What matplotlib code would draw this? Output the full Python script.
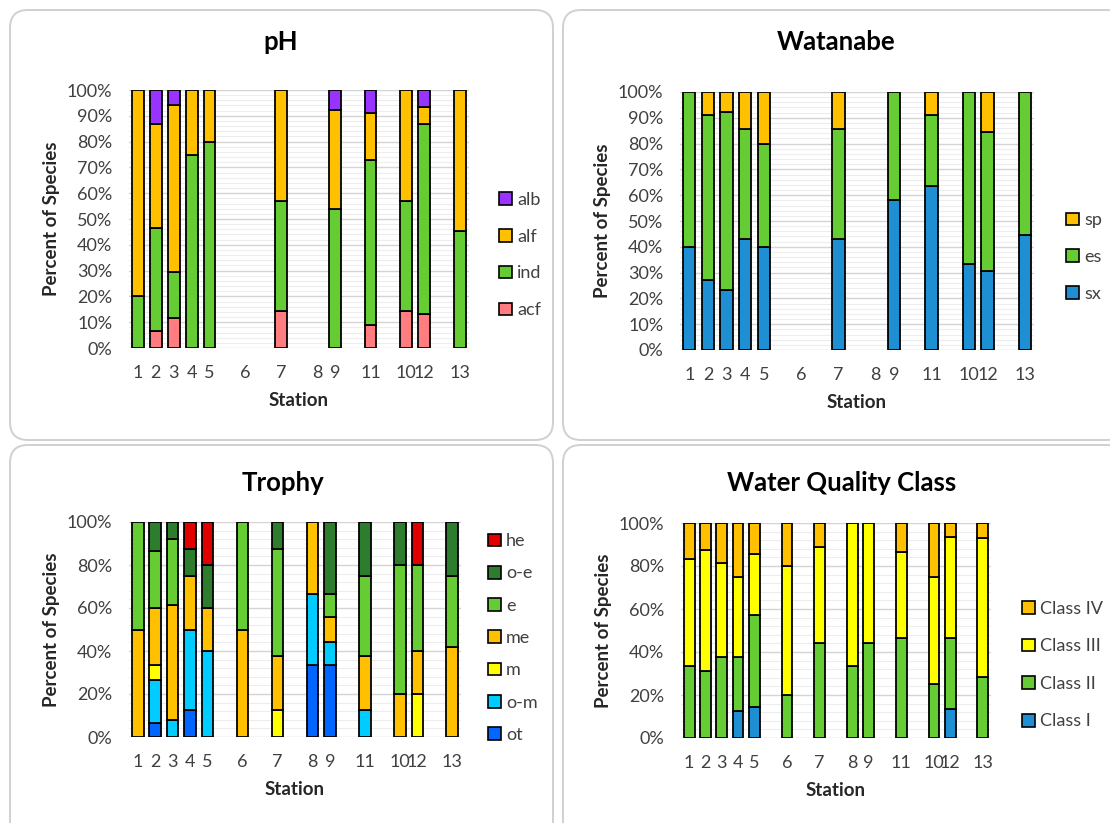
import numpy as np
import matplotlib.pyplot as plt
from matplotlib.patches import FancyBboxPatch
from matplotlib.transforms import IdentityTransform
from matplotlib.ticker import MultipleLocator, PercentFormatter

plt.rcParams['font.family'] = ['Lato', 'DejaVu Sans']

# category axis with empty slots, as in the original spreadsheet chart
categories = ["1", "2", "3", "4", "5", "", "6", "", "7", "", "8", "9", "",
              "11", "", "10", "12", "", "13"]
stations = ["1", "2", "3", "4", "5", "6", "7", "8", "9", "11", "10", "12", "13"]

# pH (percent of species) - stations 6 and 8 have no data
ph_acf = [0, 6.7, 11.8, 0, 0, 0, 14.3, 0, 0, 9.1, 14.3, 13.3, 0]
ph_ind = [20, 40.0, 17.6, 75, 80, 0, 42.8, 0, 53.8, 63.6, 42.8, 73.4, 45.5]
ph_alf = [80, 40.0, 64.7, 25, 20, 0, 42.9, 0, 38.5, 18.2, 42.9, 6.6, 54.5]
ph_alb = [0, 13.3, 5.9, 0, 0, 0, 0, 0, 7.7, 9.1, 0, 6.7, 0]

# Watanabe
wat_sx = [40, 27.3, 23.1, 42.9, 40, 0, 42.9, 0, 58.3, 63.6, 33.3, 30.8, 44.4]
wat_es = [60, 63.6, 69.2, 42.8, 40, 0, 42.8, 0, 41.7, 27.3, 66.7, 53.8, 55.6]
wat_sp = [0, 9.1, 7.7, 14.3, 20, 0, 14.3, 0, 0, 9.1, 0, 15.4, 0]

# Trophy
tr_ot = [0, 6.7, 0, 12.5, 0, 0, 0, 33.3, 33.3, 0, 0, 0, 0]
tr_om = [0, 20.0, 7.7, 37.5, 40, 0, 0, 33.4, 11.1, 12.5, 0, 0, 0]
tr_m = [0, 6.6, 0, 0, 0, 0, 12.5, 0, 0, 0, 0, 20, 0]
tr_me = [50, 26.7, 53.8, 25, 20, 50, 25, 33.3, 11.2, 25, 20, 20, 41.7]
tr_e = [50, 26.7, 30.8, 0, 0, 50, 50, 0, 11.1, 37.5, 60, 40, 33.3]
tr_oe = [0, 13.3, 7.7, 12.5, 20, 0, 12.5, 0, 33.3, 25, 20, 0, 25]
tr_he = [0, 0, 0, 12.5, 20, 0, 0, 0, 0, 0, 0, 20, 0]

# Water Quality Class
wq_1 = [0, 0, 0, 12.5, 14.3, 0, 0, 0, 0, 0, 0, 13.3, 0]
wq_2 = [33.3, 31.25, 37.5, 25, 42.8, 20, 44.4, 33.3, 44.4, 46.7, 25, 33.4, 28.6]
wq_3 = [50, 56.25, 43.75, 37.5, 28.6, 60, 44.5, 66.7, 55.6, 40, 50, 46.6, 64.3]
wq_4 = [16.7, 12.5, 18.75, 25, 14.3, 20, 11.1, 0, 0, 13.3, 25, 6.7, 7.1]

C_GREEN = '#66CC33'
C_ORANGE = '#FFC000'
C_BLUE = '#1F8FD3'

W, H = 1110, 823
fig = plt.figure(figsize=(W / 100, H / 100), dpi=100)

# rounded panel frames (pixel coords, y from top), drawn behind the axes
for x0, y0, x1, y1 in [(10, 10, 553, 440), (563, 10, 1125, 440),
                       (10, 445, 553, 840), (563, 445, 1125, 840)]:
    fig.add_artist(FancyBboxPatch((x0, H - y1), x1 - x0, y1 - y0,
                                  boxstyle="round,pad=0,rounding_size=18",
                                  transform=IdentityTransform(), zorder=-5,
                                  facecolor='white', edgecolor='#D0D0D0', lw=1.4))


def panel(rect, title, title_xy, series, names, colors, ystep, leg_xy, leg_space):
    l, t, r, b = rect
    ax = fig.add_axes([l / W, 1 - b / H, (r - l) / W, (b - t) / H])
    ax.set_facecolor('none')
    x = np.array([categories.index(s) for s in stations])
    bottom = np.zeros(len(stations))
    handles = []
    for vals, name, c in zip(series, names, colors):
        vals = np.array(vals, dtype=float)
        mask = vals > 0
        ax.bar(x[mask], vals[mask], 0.66, bottom=bottom[mask], color=c,
               edgecolor='black', linewidth=1.3, label=name, zorder=3)
        handles.append(plt.Rectangle((0, 0), 1, 1, facecolor=c,
                                     edgecolor='black', linewidth=1.2))
        bottom += vals
    ax.set_xlim(-0.5, len(categories) - 0.5)
    ax.set_ylim(0, 100)
    ax.set_xticks(range(len(categories)))
    ax.set_xticklabels(categories)
    ax.yaxis.set_major_locator(MultipleLocator(ystep))
    ax.yaxis.set_minor_locator(MultipleLocator(ystep / 5))
    ax.yaxis.set_major_formatter(PercentFormatter(decimals=0))
    ax.grid(axis='y', which='major', color='#D4D4D4', lw=1.0, zorder=0)
    ax.grid(axis='y', which='minor', color='#EDEDED', lw=0.8, zorder=0)
    ax.tick_params(which='both', length=0, labelsize=13, colors='#404040')
    ax.tick_params(axis='y', pad=12)
    ax.tick_params(axis='x', pad=12)
    for sp in ax.spines.values():
        sp.set_visible(False)
    ax.set_xlabel('Station', fontsize=13.5, fontweight='bold', color='#262626', labelpad=8)
    ax.set_ylabel('Percent of Species', fontsize=13.5, fontweight='bold',
                  color='#262626', labelpad=5)
    fig.text(title_xy[0] / W, 1 - title_xy[1] / H, title, fontsize=18.5,
             fontweight='bold', ha='center', va='center')
    fig.legend(handles[::-1], names[::-1], loc='center left',
               bbox_to_anchor=(leg_xy[0] / W, 1 - leg_xy[1] / H),
               frameon=False, fontsize=13, handlelength=0.7, handleheight=0.7,
               handletextpad=0.3, labelspacing=leg_space, labelcolor='#404040',
               borderaxespad=0, borderpad=0)
    return ax


panel((129, 90, 469, 348), 'pH', (281, 42),
      [ph_acf, ph_ind, ph_alf, ph_alb], ['acf', 'ind', 'alf', 'alb'],
      ['#FF7C80', C_GREEN, C_ORANGE, '#9933FF'], 10, (499, 255), 1.15)

panel((680, 92, 1034, 350), 'Watanabe', (836, 42),
      [wat_sx, wat_es, wat_sp], ['sx', 'es', 'sp'],
      [C_BLUE, C_GREEN, C_ORANGE], 10, (1066, 257), 1.15)

panel((129, 522, 461, 737), 'Trophy', (283, 483),
      [tr_ot, tr_om, tr_m, tr_me, tr_e, tr_oe, tr_he],
      ['ot', 'o-m', 'm', 'me', 'e', 'o-e', 'he'],
      ['#0066FF', '#00CCFF', '#FFFF00', C_ORANGE, C_GREEN, '#2E7D2E', '#E00000'],
      20, (488, 638), 0.9)

panel((681, 523, 991, 738), 'Water Quality Class', (842, 483),
      [wq_1, wq_2, wq_3, wq_4], ['Class I', 'Class II', 'Class III', 'Class IV'],
      [C_BLUE, C_GREEN, '#FFFF00', C_ORANGE], 20, (1022, 665), 1.2)

fig.savefig('out.png', dpi=100)
